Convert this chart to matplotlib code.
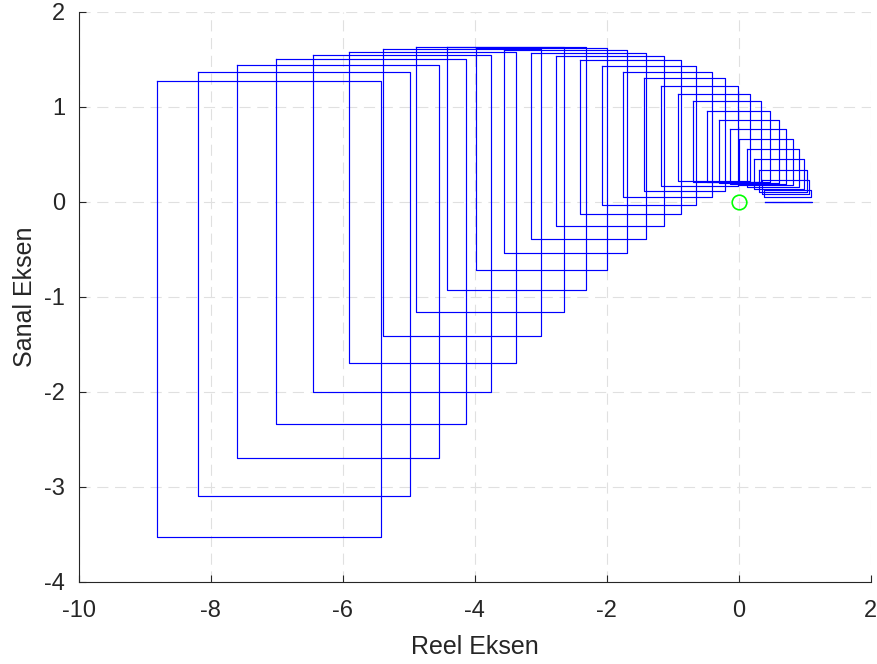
import numpy as np
import matplotlib.pyplot as plt

plt.rcParams['font.family'] = ['Liberation Sans', 'DejaVu Sans']
plt.rcParams['axes.unicode_minus'] = False

# box edges, one entry per rectangle
left = [-8.82, -8.19, -7.60, -7.02, -6.45, -5.91, -5.40, -4.90, -4.43, -3.99,
        -3.56, -3.15, -2.77, -2.40, -2.07, -1.75, -1.44, -1.18, -0.92, -0.70,
        -0.48, -0.30, -0.14, 0.00, 0.13, 0.23, 0.30, 0.35, 0.38, 0.39]
right = [-5.42, -4.98, -4.55, -4.14, -3.75, -3.37, -3.00, -2.65, -2.32, -2.00,
         -1.70, -1.41, -1.14, -0.88, -0.65, -0.41, -0.21, -0.01, 0.17, 0.33,
         0.47, 0.61, 0.72, 0.82, 0.91, 0.98, 1.03, 1.06, 1.09, 1.11]
top = [1.27, 1.37, 1.44, 1.50, 1.55, 1.58, 1.61, 1.63, 1.63, 1.62,
       1.60, 1.57, 1.54, 1.49, 1.43, 1.37, 1.30, 1.22, 1.14, 1.06,
       0.96, 0.86, 0.77, 0.66, 0.56, 0.45, 0.34, 0.23, 0.13, 0.00]
bottom = [-3.53, -3.10, -2.70, -2.34, -2.00, -1.69, -1.41, -1.16, -0.93, -0.72,
          -0.54, -0.39, -0.25, -0.13, -0.03, 0.05, 0.12, 0.17, 0.22, 0.21,
          0.21, 0.20, 0.19, 0.18, 0.16, 0.14, 0.11, 0.08, 0.05, 0.00]

fig = plt.figure(figsize=(8.77, 6.64), dpi=100)
ax = fig.add_axes([0.090, 0.1235, 0.903, 0.8585])

for l, r, t, b in zip(left, right, top, bottom):
    ax.plot([l, r, r, l, l], [t, t, b, b, t], color=(0, 0, 1), linewidth=0.85)

ax.plot(0, 0, 'o', markersize=10.5, markerfacecolor='none',
        markeredgecolor=(0, 1, 0), markeredgewidth=1.2)

ax.set_xlim(-10, 2)
ax.set_ylim(-4, 2)
ax.set_xticks(np.arange(-10, 3, 2))
ax.set_yticks(np.arange(-4, 3, 1))
ax.grid(True, linestyle=(0, (10, 6)), color='#e0e0e0', linewidth=0.8)
ax.set_axisbelow(True)
for s in ['top', 'right']:
    ax.spines[s].set_visible(False)
for s in ['left', 'bottom']:
    ax.spines[s].set_color('#262626')
    ax.spines[s].set_linewidth(0.8)
ax.tick_params(direction='in', length=5, width=0.8, colors='#262626',
               labelsize=17, labelcolor='#262626')
ax.tick_params(axis='x', pad=13)
ax.tick_params(axis='y', pad=10)
ax.set_xlabel('Reel Eksen', fontsize=18, color='#262626', labelpad=9)
ax.set_ylabel('Sanal Eksen', fontsize=18, color='#262626', labelpad=5)

fig.savefig('out.png', dpi=100)
